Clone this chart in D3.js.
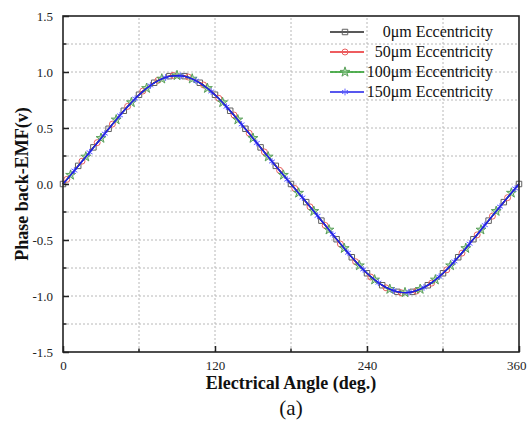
<!DOCTYPE html>
<html><head><meta charset="utf-8">
<script src="https://cdn.jsdelivr.net/npm/d3@7/dist/d3.min.js"></script>
<style>body{margin:0;background:#fff}svg{display:block}svg text{font-family:"Liberation Serif","Times New Roman",serif}</style>
</head><body>
<script>
// Electrical angle, every 3 degrees from 0 to 360
const angles = d3.range(0, 361, 3);
const seriesNames = ["0\u03bcm Eccentricity", "50\u03bcm Eccentricity", "100\u03bcm Eccentricity", "150\u03bcm Eccentricity"];
const seriesColors = ["#222222", "#e8262a", "#1f9a1f", "#1f1fe8"];
const markerColors = ["#606060", "#e86060", "#5aa05a", "#6060ff"];
const xTicks = [0, 120, 240, 360];
const yTicks = [-1.5, -1.0, -0.5, 0.0, 0.5, 1.0, 1.5];

const s0 = [0.000,0.040,0.081,0.121,0.162,0.203,0.244,0.285,0.327,0.368,0.410,0.452,0.493,0.534,0.575,0.615,0.654,0.692,0.729,0.764,0.797,0.828,0.856,0.882,0.904,0.924,0.940,0.953,0.963,0.968,0.970,
0.968,0.963,0.953,0.940,0.924,0.904,0.882,0.856,0.828,0.797,0.764,0.729,0.692,0.654,0.615,0.575,0.534,0.493,0.452,0.410,0.368,0.327,0.285,0.244,0.203,0.162,0.121,0.081,0.040,0.000,
-0.040,-0.081,-0.121,-0.162,-0.203,-0.244,-0.285,-0.327,-0.368,-0.410,-0.452,-0.493,-0.534,-0.575,-0.615,-0.654,-0.692,-0.729,-0.764,-0.797,-0.828,-0.856,-0.882,-0.904,-0.924,-0.940,-0.953,-0.963,-0.968,-0.970,
-0.968,-0.963,-0.953,-0.940,-0.924,-0.904,-0.882,-0.856,-0.828,-0.797,-0.764,-0.729,-0.692,-0.654,-0.615,-0.575,-0.534,-0.493,-0.452,-0.410,-0.368,-0.327,-0.285,-0.244,-0.203,-0.162,-0.121,-0.081,-0.040,0.000];
const s50 = [0.000,0.041,0.082,0.122,0.163,0.204,0.245,0.286,0.328,0.369,0.411,0.453,0.494,0.535,0.576,0.616,0.655,0.693,0.730,0.765,0.799,0.830,0.858,0.884,0.906,0.926,0.942,0.955,0.965,0.970,0.972,
0.970,0.965,0.955,0.942,0.926,0.906,0.884,0.858,0.830,0.799,0.765,0.730,0.693,0.655,0.616,0.576,0.535,0.494,0.453,0.411,0.369,0.328,0.286,0.245,0.204,0.163,0.122,0.082,0.041,0.001,
-0.040,-0.081,-0.122,-0.163,-0.204,-0.245,-0.287,-0.328,-0.370,-0.412,-0.454,-0.495,-0.536,-0.577,-0.617,-0.656,-0.694,-0.731,-0.766,-0.800,-0.831,-0.859,-0.885,-0.907,-0.927,-0.943,-0.956,-0.966,-0.971,-0.973,
-0.971,-0.966,-0.956,-0.943,-0.927,-0.907,-0.885,-0.859,-0.831,-0.800,-0.766,-0.731,-0.694,-0.656,-0.617,-0.577,-0.536,-0.495,-0.454,-0.412,-0.370,-0.328,-0.287,-0.245,-0.204,-0.163,-0.122,-0.081,-0.040,0.000];
const s100 = [0.000,0.040,0.080,0.120,0.161,0.202,0.243,0.284,0.326,0.367,0.409,0.451,0.492,0.533,0.574,0.614,0.653,0.691,0.728,0.763,0.796,0.827,0.855,0.881,0.903,0.923,0.939,0.952,0.962,0.967,0.969,
0.967,0.962,0.952,0.939,0.923,0.903,0.881,0.855,0.827,0.796,0.763,0.728,0.691,0.653,0.614,0.574,0.533,0.492,0.451,0.409,0.367,0.326,0.284,0.243,0.202,0.161,0.120,0.080,0.040,0.000,
-0.040,-0.080,-0.120,-0.161,-0.202,-0.243,-0.284,-0.326,-0.367,-0.409,-0.451,-0.492,-0.533,-0.574,-0.614,-0.653,-0.691,-0.728,-0.763,-0.796,-0.827,-0.855,-0.881,-0.903,-0.923,-0.939,-0.952,-0.962,-0.967,-0.969,
-0.967,-0.962,-0.952,-0.939,-0.923,-0.903,-0.881,-0.855,-0.827,-0.796,-0.763,-0.728,-0.691,-0.653,-0.614,-0.574,-0.533,-0.492,-0.451,-0.409,-0.367,-0.326,-0.284,-0.243,-0.202,-0.161,-0.120,-0.080,-0.040,0.000];
const s150 = [0.000,0.039,0.080,0.120,0.160,0.201,0.242,0.283,0.325,0.366,0.408,0.450,0.491,0.532,0.573,0.613,0.652,0.690,0.727,0.762,0.795,0.826,0.854,0.880,0.902,0.922,0.938,0.951,0.961,0.966,0.968,
0.966,0.961,0.951,0.938,0.922,0.902,0.880,0.854,0.826,0.795,0.762,0.727,0.690,0.652,0.613,0.573,0.532,0.491,0.450,0.408,0.366,0.325,0.283,0.242,0.201,0.160,0.120,0.080,0.039,-0.001,
-0.041,-0.081,-0.121,-0.161,-0.202,-0.243,-0.284,-0.326,-0.367,-0.409,-0.451,-0.492,-0.533,-0.574,-0.614,-0.653,-0.691,-0.728,-0.763,-0.796,-0.827,-0.855,-0.881,-0.903,-0.923,-0.939,-0.952,-0.962,-0.967,-0.969,
-0.967,-0.962,-0.952,-0.939,-0.923,-0.903,-0.881,-0.855,-0.827,-0.796,-0.763,-0.728,-0.691,-0.653,-0.614,-0.574,-0.533,-0.492,-0.451,-0.409,-0.367,-0.326,-0.284,-0.243,-0.202,-0.161,-0.120,-0.080,-0.040,0.000];
const seriesValues = [s0, s50, s100, s150];

const W = 527, H = 421;
const m = {left: 63, top: 16, right: 8, bottom: 69};
const svg = d3.select("body").append("svg").attr("width", W).attr("height", H);
const x = d3.scaleLinear().domain([0, 360]).range([m.left, W - m.right]);
const y = d3.scaleLinear().domain([-1.5, 1.5]).range([H - m.bottom, m.top]);
const serif = "Liberation Serif";

// grid
const g = svg.append("g");
g.selectAll(".gx").data(d3.range(60, 360, 60)).join("line")
  .attr("x1", d => x(d)).attr("x2", d => x(d)).attr("y1", y(-1.5)).attr("y2", y(1.5))
  .attr("stroke", "#b8b8b8").attr("stroke-width", 1).attr("stroke-dasharray", "2,2");
g.selectAll(".gy").data(d3.range(-1.25, 1.5, 0.25)).join("line")
  .attr("y1", d => y(d)).attr("y2", d => y(d)).attr("x1", x(0)).attr("x2", x(360))
  .attr("stroke", "#b8b8b8").attr("stroke-width", 1).attr("stroke-dasharray", "2,2");

// series lines + markers
const line = d3.line().x((d, i) => x(angles[i])).y(d => y(d));
const symbols = [d3.symbolSquare, d3.symbolCircle, d3.symbolStar, d3.symbolAsterisk];
const symSizes = [30, 28, 30, 32];
function drawMarker(sel, i) {
  sel.attr("d", d3.symbol().type(symbols[i]).size(symSizes[i]))
     .attr("fill", i === 2 ? "#8cc88c" : "none").attr("fill-opacity", 0.6)
     .attr("stroke", markerColors[i]).attr("stroke-width", 1);
}
seriesValues.forEach((vals, i) => {
  svg.append("path").datum(vals).attr("d", line).attr("fill", "none")
    .attr("stroke", seriesColors[i]).attr("stroke-width", 1.2);
  const pts = vals.map((v, k) => ({a: angles[k], v, k})).filter(p => p.k % 4 === i);
  const ms = svg.append("g").selectAll("path").data(pts).join("path")
    .attr("transform", p => `translate(${x(p.a)},${y(p.v)})`);
  drawMarker(ms, i);
});
// blue line on top
svg.append("path").datum(s150).attr("d", line).attr("fill", "none")
  .attr("stroke", seriesColors[3]).attr("stroke-width", 1.3);

// frame
svg.append("rect").attr("x", x(0)).attr("y", y(1.5)).attr("width", x(360) - x(0)).attr("height", y(-1.5) - y(1.5))
  .attr("fill", "none").attr("stroke", "#222").attr("stroke-width", 1.6);

// axes ticks (inward)
const xAxis = d3.axisBottom(x).tickValues(xTicks).tickSize(-6).tickPadding(9).tickFormat(d3.format("d"));
const xa = svg.append("g").attr("transform", `translate(0,${y(-1.5)})`).call(xAxis);
xa.select(".domain").remove();
xa.selectAll(".tick text").filter(d => d === 360).attr("text-anchor", "end").attr("dx", 7);
svg.append("g").selectAll("line").data([60, 180, 300]).join("line")
  .attr("x1", d => x(d)).attr("x2", d => x(d)).attr("y1", y(-1.5)).attr("y2", y(-1.5) - 3.5)
  .attr("stroke", "#222").attr("stroke-width", 1.5);
const yAxis = d3.axisLeft(y).tickValues(yTicks).tickSize(-6).tickPadding(10).tickFormat(d => d3.format(".1f")(d).replace("\u2212", "-"));
const ya = svg.append("g").attr("transform", `translate(${x(0)},0)`).call(yAxis);
ya.select(".domain").remove();
svg.append("g").selectAll("line").data(d3.range(-1.25, 1.5, 0.5)).join("line")
  .attr("x1", x(0)).attr("x2", x(0) + 3.5).attr("y1", d => y(d)).attr("y2", d => y(d))
  .attr("stroke", "#222").attr("stroke-width", 1.5);
[xa, ya].forEach(a => {
  a.attr("font-family", serif);
  a.selectAll("line").attr("stroke", "#222").attr("stroke-width", 1.5);
  a.selectAll("text").attr("font-family", serif).attr("font-size", 13).attr("fill", "#222");
});

// titles
svg.append("text").attr("x", x(180)).attr("y", 389).attr("text-anchor", "middle")
  .attr("font-family", serif).attr("font-weight", "bold").attr("font-size", 18).attr("fill", "#111")
  .text("Electrical Angle (deg.)");
svg.append("text").attr("x", x(180)).attr("y", 415).attr("text-anchor", "middle")
  .attr("font-family", serif).attr("font-size", 21).attr("fill", "#111").text("(a)");
svg.append("text").attr("transform", `translate(28,${y(0)}) rotate(-90)`).attr("text-anchor", "middle")
  .attr("font-family", serif).attr("font-weight", "bold").attr("font-size", 18).attr("fill", "#111")
  .text("Phase back-EMF(v)");

// legend
const lg = svg.append("g");
seriesNames.forEach((name, i) => {
  const ly = 32 + i * 20;
  lg.append("line").attr("x1", 330).attr("x2", 364).attr("y1", ly).attr("y2", ly)
    .attr("stroke", seriesColors[i]).attr("stroke-width", 1.3);
  const mk = lg.append("path").attr("transform", `translate(345,${ly})`);
  drawMarker(mk, i);
  lg.append("text").attr("x", 493).attr("y", ly + 5).attr("text-anchor", "end")
    .attr("font-family", serif).attr("font-size", 16).attr("fill", "#111").text(name);
});
</script>
</body></html>
